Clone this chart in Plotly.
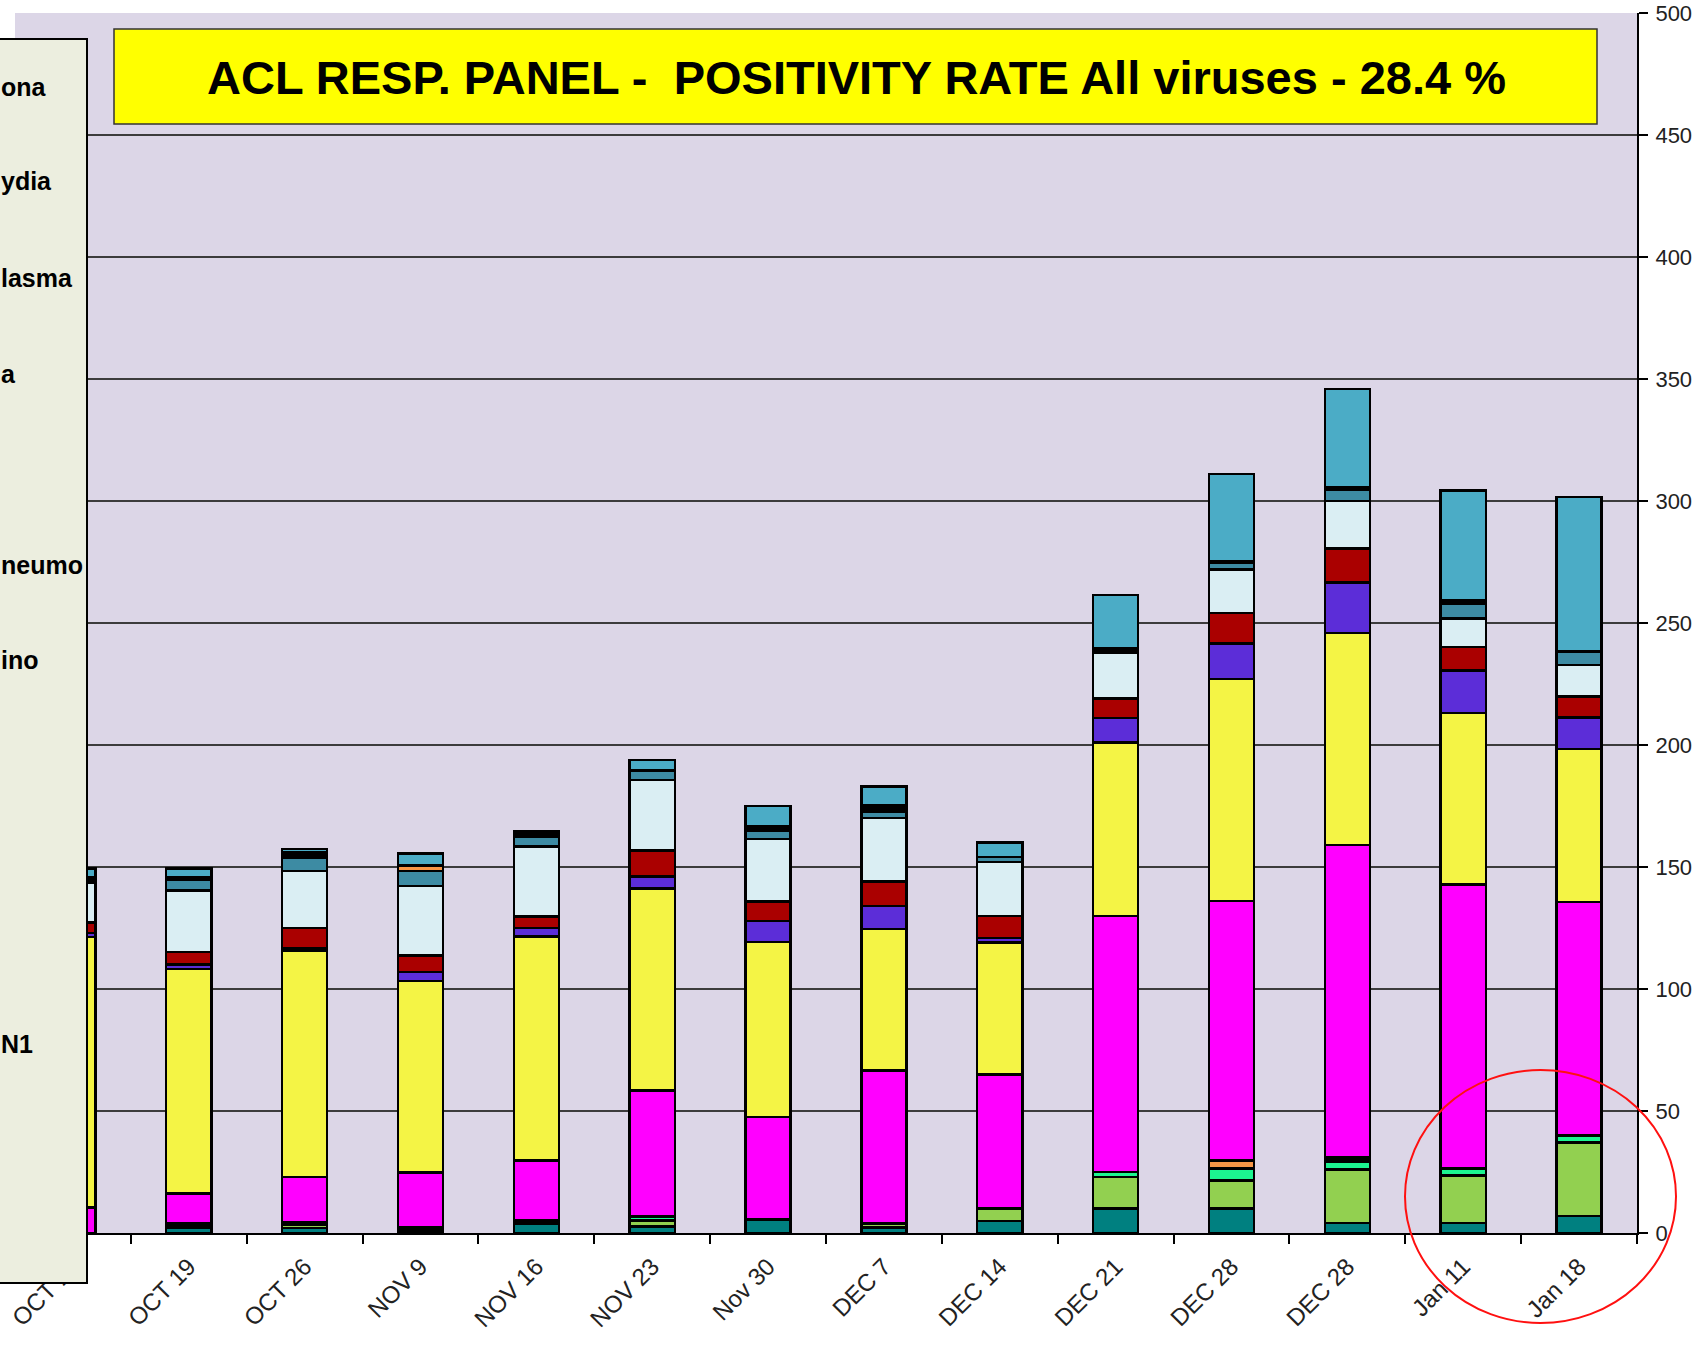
import plotly.graph_objects as go

# ---------------- data ----------------
week_labels = ["OCT 12", "OCT 19", "OCT 26", "NOV 9", "NOV 16", "NOV 23", "Nov 30",
               "DEC 7", "DEC 14", "DEC 21", "DEC 28", "DEC 28", "Jan 11", "Jan 18"]

# stacked series, bottom -> top
adeno      = [0, 2, 2, 0, 3.7, 2.6, 5.5, 2.2, 5, 10, 10, 4, 4, 7]
boca       = [0, 0, 1.5, 0, 0, 2.6, 0, 1.6, 5, 13, 11.5, 22, 19.5, 30]
para_other = [0, 0, 0, 0, 0, 1.6, 0, 0, 0, 2, 5, 3, 3, 3]
flu_b      = [0, 0, 0, 0, 0, 0, 0, 0, 0, 0, 3, 0, 0, 0]
pertussis  = [0, 1.8, 1, 2.2, 1.5, 0, 0, 0, 0, 0, 0.5, 2, 0, 0]
h1n1       = [10.4, 12.4, 18.5, 22.5, 24.6, 51.6, 42, 62.9, 55, 105, 106, 128, 116.3, 95.7]
rhino      = [111, 92, 92.8, 78.5, 91.8, 82.7, 71.7, 57.8, 54, 71, 91, 87, 70.4, 62.6]
rsv        = [1.5, 1.9, 1, 3.8, 3.3, 5, 8.7, 9.6, 2, 10, 14.5, 20.5, 17.3, 12.9]
metapneumo = [4.4, 5, 8.1, 6.7, 4.9, 10.6, 8, 9.9, 9, 8, 12.5, 14, 9.7, 8.7]
entero     = [16.2, 25.2, 23.5, 28.5, 28.7, 28.9, 25.5, 26, 22, 19, 18, 19.5, 11.7, 12.8]
parainflu  = [1, 4.5, 5.2, 6.2, 4.1, 3.9, 3.3, 2.7, 2, 0.5, 2.5, 4.5, 6, 5.6]
mycoplasma = [0, 0, 0, 2, 0, 0, 0, 1.3, 0, 0, 0, 0, 0, 0]
chlamydia  = [1.5, 1, 2.3, 0.5, 2, 0, 1.9, 1.2, 0, 1, 1, 1, 1.5, 0]
corona     = [3.3, 3.5, 1.4, 4.6, 0, 4.4, 8.5, 7.8, 6, 22, 35.5, 40.5, 45, 63.3]

series = [
    ("Adeno", adeno, "#008080"),
    ("Boca", boca, "#92D050"),
    ("Para 1-4", para_other, "#1CF590"),
    ("Flu B", flu_b, "#F79646"),
    ("Pertussis", pertussis, "#000000"),
    ("Flu A H1N1", h1n1, "#FF00FF"),
    ("Rhino", rhino, "#F4F445"),
    ("RSV", rsv, "#5C2DD8"),
    ("Metapneumo", metapneumo, "#AA0000"),
    ("Entero", entero, "#DAEEF3"),
    ("Parainfluenza", parainflu, "#3D8BA3"),
    ("Mycoplasma", mycoplasma, "#F79646"),
    ("Chlamydia", chlamydia, "#000000"),
    ("Corona", corona, "#4BACC6"),
]

# legend text as it shows at the cut left edge of the picture
legend_texts = ["ona", "ydia", "lasma", "a", "neumo", "ino", "N1"]

title_text = "ACL RESP. PANEL -  POSITIVITY RATE All viruses - 28.4 %"

# ---------------- layout geometry (pixels) ----------------
W, H = 1701, 1348
PL, PR, PT, PB = 15, 1637, 13, 1233


def px(xp):
    return (xp - PL) / (PR - PL)


def py(yp):
    return (PB - yp) / (PB - PT)


REG = "Liberation Sans, Arial, sans-serif"

fig = go.Figure()
xpos = list(range(len(week_labels)))
for name, vals, col in series:
    fig.add_trace(go.Bar(
        x=xpos, y=vals, name=name,
        marker=dict(color=col, line=dict(color="#000000", width=2.5)),
        showlegend=False,
    ))

shapes = [
    # title box
    dict(type="rect", xref="paper", yref="paper",
         x0=px(114), x1=px(1597), y0=py(124), y1=py(29),
         fillcolor="#FFFF00", line=dict(color="#333333", width=1.5), layer="above"),
    # legend box (cut at the left edge)
    dict(type="rect", xref="paper", yref="paper",
         x0=px(-40), x1=px(87), y0=py(1283), y1=py(39),
         fillcolor="#ECEEDF", line=dict(color="#000000", width=2), layer="above"),
    # red circle
    dict(type="circle", xref="paper", yref="paper",
         x0=px(1405), x1=px(1676), y0=py(1323), y1=py(1070),
         line=dict(color="#FF1010", width=2), layer="above"),
]

legend_rows = [87, 181, 278, 374, 565, 660, 1044]

annotations = [
    dict(text="<b>" + title_text + "</b>", xref="paper", yref="paper",
         x=px(856), y=py(77), xanchor="center", yanchor="middle", showarrow=False,
         font=dict(family=REG, size=47, color="#000000")),
]
for nm, yr in zip(legend_texts, legend_rows):
    annotations.append(dict(text="<b>" + nm + "</b>", xref="paper", yref="paper",
                            x=px(-1), y=py(yr), xanchor="left", yanchor="middle",
                            showarrow=False,
                            font=dict(family=REG, size=25, color="#000000")))

fig.update_layout(
    width=W, height=H,
    margin=dict(l=PL, r=W - PR, t=PT, b=H - PB, pad=0),
    paper_bgcolor="#FFFFFF",
    plot_bgcolor="#DCD6E7",
    barmode="stack",
    bargap=0.61,
    shapes=shapes,
    annotations=annotations,
    xaxis=dict(
        type="category", automargin=False,
        tickmode="array", tickvals=xpos, ticktext=week_labels,
        tickson="boundaries", ticks="outside", ticklen=9, tickwidth=1.5, tickcolor="#000000",
        tickangle=-45, tickfont=dict(family=REG, size=24, color="#222222"),
        ticklabelstandoff=8,
        showgrid=False, showline=True, linecolor="#000000", linewidth=2,
        range=[-0.5, len(week_labels) - 0.5],
    ),
    yaxis=dict(
        range=[0, 500.001], tickmode="linear", tick0=0, dtick=50, side="right",
        automargin=False,
        showgrid=True, gridcolor="#3C3C3C", gridwidth=2,
        zeroline=False,
        showline=True, linecolor="#000000", linewidth=2,
        ticks="outside", ticklen=9, tickwidth=1.5, tickcolor="#000000",
        tickfont=dict(family=REG, size=22, color="#222222"),
        ticklabelstandoff=3,
    ),
)

fig.write_html("out.html", config={"displayModeBar": False},
               post_script="document.body.style.margin='0';")
